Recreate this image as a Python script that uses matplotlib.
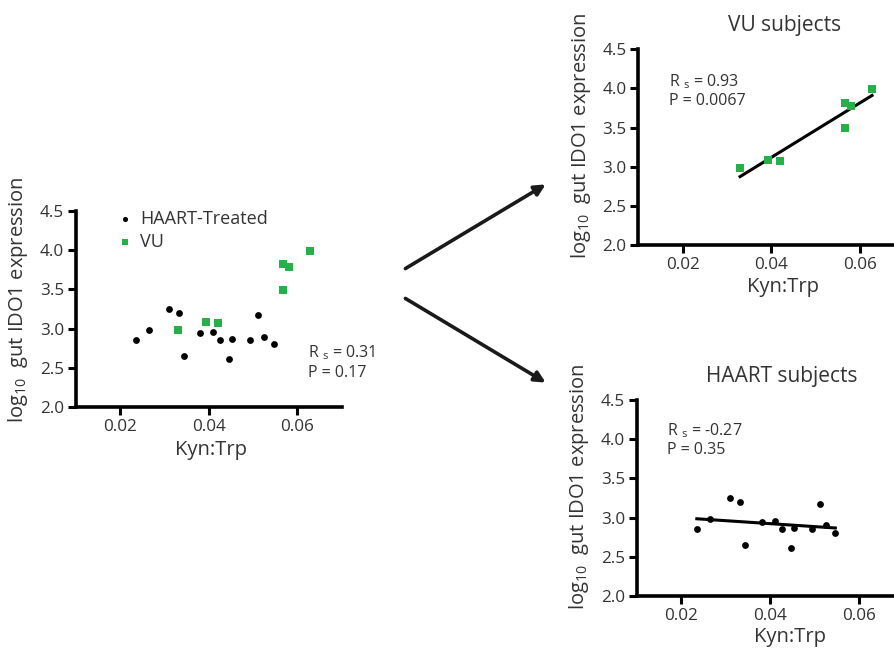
import numpy as np
import matplotlib
matplotlib.use("Agg")
import matplotlib.pyplot as plt
from matplotlib.patches import FancyArrowPatch

# ---- data ----
haart_x = [0.0235, 0.0265, 0.0309, 0.0333, 0.0344, 0.0381, 0.0410, 0.0426,
           0.0453, 0.0446, 0.0493, 0.0512, 0.0524, 0.0546]
haart_y = [2.85, 2.98, 3.25, 3.20, 2.65, 2.94, 2.96, 2.86,
           2.87, 2.61, 2.85, 3.17, 2.90, 2.80]
vu_x = [0.0330, 0.0394, 0.0421, 0.0567, 0.0580, 0.0567, 0.0628]
vu_y = [2.98, 3.09, 3.07, 3.82, 3.78, 3.49, 3.99]

xticks = [0.02, 0.04, 0.06]
xticklabels = ["0.02", "0.04", "0.06"]
yticks = [2.0, 2.5, 3.0, 3.5, 4.0, 4.5]
yticklabels = ["2.0", "2.5", "3.0", "3.5", "4.0", "4.5"]

stats_all = ("0.31", "0.17")
stats_vu = ("0.93", "0.0067")
stats_haart = ("-0.27", "0.35")

GREEN = "#27B04A"
TXT = "#333333"

plt.rcParams['font.family'] = ['Open Sans', 'DejaVu Sans']
plt.rcParams['mathtext.default'] = 'regular'

W, H = 895, 653
fig = plt.figure(figsize=(W / 100, H / 100), dpi=100)


def px_axes(x0, y_top, x1, y_bot):
    return fig.add_axes([x0 / W, 1 - y_bot / H, (x1 - x0) / W, (y_bot - y_top) / H])


def style(ax, xmax=0.07):
    ax.set_xlim(0.01, xmax)
    ax.set_ylim(2.0, 4.5)
    for s in ("top", "right"):
        ax.spines[s].set_visible(False)
    for s in ("left", "bottom"):
        ax.spines[s].set_linewidth(2.6)
        ax.spines[s].set_color("black")
    ax.set_xticks(xticks)
    ax.set_xticklabels(xticklabels)
    ax.set_yticks(yticks)
    ax.set_yticklabels(yticklabels)
    ax.tick_params(axis="both", direction="out", length=6, width=2.2,
                   labelsize=12.3, labelcolor=TXT, pad=2.5)
    ax.set_xlabel("Kyn:Trp", fontsize=14.5, color=TXT)
    ax.set_ylabel("log$_{10}$  gut IDO1 expression", fontsize=14.5, color=TXT)
    ax.patch.set_alpha(0)


def stats(ax, x, y, r, p):
    ax.text(x, y, "R $_{s}$ = " + r + "\nP = " + p, transform=ax.transAxes,
            fontsize=11.5, color=TXT, va="top", ha="left", linespacing=1.2)


def fit_line(ax, xs, ys):
    xs = np.asarray(xs)
    ys = np.asarray(ys)
    m, b = np.polyfit(xs, ys, 1)
    xx = np.array([xs.min(), xs.max()])
    ax.plot(xx, m * xx + b, color="black", lw=2.2, zorder=2)


# ---- left combined plot ----
ax1 = px_axes(76, 210.7, 341.7, 407.3)
style(ax1)
ax1.scatter(haart_x, haart_y, s=24, marker="o", color="black", label="HAART-Treated",
            zorder=3, linewidths=0)
ax1.scatter(vu_x, vu_y, s=28, marker="s", color=GREEN, label="VU", zorder=3, linewidths=0)
leg = ax1.legend(loc="upper left", bbox_to_anchor=(0.135, 1.04), frameon=False,
                 fontsize=13, handlelength=0.7, handletextpad=0.45,
                 labelspacing=0.25, borderaxespad=0, markerscale=0.75)
for t in leg.get_texts():
    t.set_color(TXT)
stats(ax1, 0.873, 0.325, *stats_all)
ax1.xaxis.set_label_coords(0.508, -0.165)
ax1.yaxis.set_label_coords(-0.173, 0.546)

# ---- top right VU ----
ax2 = px_axes(638.3, 49.3, 895, 245.3)
style(ax2, xmax=0.068)
ax2.scatter(vu_x, vu_y, s=28, marker="s", color=GREEN, zorder=3, linewidths=0)
fit_line(ax2, vu_x, vu_y)
stats(ax2, 0.121, 0.885, *stats_vu)
ax2.text(0.571, 1.093, "VU subjects", transform=ax2.transAxes, fontsize=15,
         color=TXT, ha="center", va="baseline")
ax2.xaxis.set_label_coords(0.564, -0.16)
ax2.yaxis.set_label_coords(-0.176, 0.56)

# ---- bottom right HAART ----
ax3 = px_axes(636.7, 400, 895, 596)
style(ax3, xmax=0.068)
ax3.scatter(haart_x, haart_y, s=24, marker="o", color="black", zorder=3, linewidths=0)
fit_line(ax3, haart_x, haart_y)
stats(ax3, 0.116, 0.893, *stats_haart)
ax3.text(0.5625, 1.092, "HAART subjects", transform=ax3.transAxes, fontsize=15,
         color=TXT, ha="center", va="baseline")
ax3.xaxis.set_label_coords(0.593, -0.157)
ax3.yaxis.set_label_coords(-0.176, 0.556)

# ---- arrows ----
for (x0, y0, x1, y1) in [(403, 270, 548, 183), (403, 297, 548, 384)]:
    arr = FancyArrowPatch((x0 / W, 1 - y0 / H), (x1 / W, 1 - y1 / H),
                          transform=fig.transFigure, arrowstyle="-|>",
                          mutation_scale=16, lw=2.6, color="#1a1a1a")
    fig.patches.append(arr)

fig.savefig("out.png", dpi=100)
